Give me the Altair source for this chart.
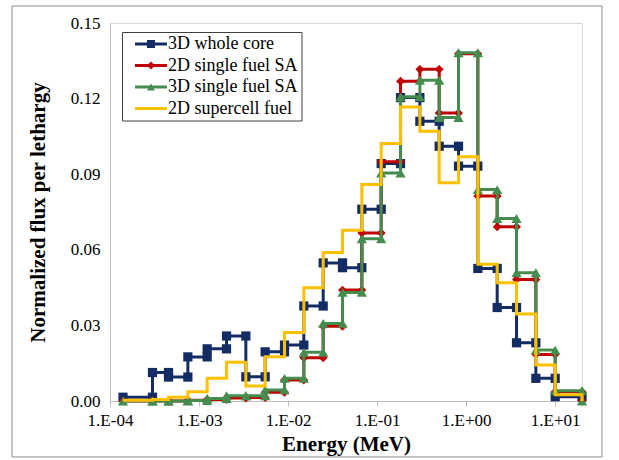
import altair as alt
import pandas as pd

# Group boundaries (MeV), lowest to highest
edges = [1.4e-4, 3.0e-4, 4.54e-4, 7.49e-4, 1.234e-3, 2.035e-3, 3.355e-3,
         5.531e-3, 9.119e-3, 1.503e-2, 2.479e-2, 4.087e-2, 6.738e-2, 0.1111,
         0.1832, 0.3020, 0.4979, 0.8208, 1.353, 2.231, 3.679, 6.065, 10.0, 20.0]

series_names = ["3D whole core", "2D single fuel SA", "3D single fuel SA", "2D supercell fuel"]

# Normalized flux per lethargy in each group
whole_core = [0.0015, 0.0113, 0.0095, 0.0175, 0.0207, 0.0258, 0.0096, 0.0195,
              0.0222, 0.0377, 0.0548, 0.0529, 0.0761, 0.0942, 0.1204, 0.1110,
              0.1011, 0.0932, 0.0526, 0.0371, 0.0231, 0.0090, 0.0017]
single_2d = [0.0000, 0.0000, 0.0000, 0.0003, 0.0006, 0.0012, 0.0014, 0.0035,
             0.0083, 0.0172, 0.0297, 0.0440, 0.0667, 0.0949, 0.1269, 0.1316,
             0.1143, 0.1378, 0.0813, 0.0691, 0.0482, 0.0185, 0.0037]
single_3d = [0.0000, 0.0000, 0.0000, 0.0002, 0.0010, 0.0021, 0.0021, 0.0044,
             0.0090, 0.0193, 0.0308, 0.0431, 0.0644, 0.0905, 0.1207, 0.1273,
             0.1125, 0.1382, 0.0839, 0.0724, 0.0509, 0.0202, 0.0041]
supercell = [0.0003, 0.0006, 0.0015, 0.0037, 0.0090, 0.0154, 0.0060, 0.0176,
             0.0272, 0.0449, 0.0589, 0.0678, 0.0859, 0.1022, 0.1167, 0.1070,
             0.0866, 0.0969, 0.0543, 0.0469, 0.0345, 0.0143, 0.0025]

values = [whole_core, single_2d, single_3d, supercell]
closes_to_zero = [False, True, True, True]

colors = ["#142c64", "#c00000", "#468c4e", "#ffc000"]
shapes = ["square", "diamond", "triangle-up", "circle"]
marker_sizes = [85, 80, 105, 0]

tick_values = [1e-4, 1e-3, 1e-2, 1e-1, 1e0, 1e1]
y_ticks = [0.0, 0.03, 0.06, 0.09, 0.12, 0.15]

# Expand every group into its left/right boundary points to form steps
rows = []
for name, vals, close in zip(series_names, values, closes_to_zero):
    k = 0
    for i, v in enumerate(vals):
        rows.append({"series": name, "energy": edges[i], "flux": v, "k": k}); k += 1
        rows.append({"series": name, "energy": edges[i + 1], "flux": v, "k": k}); k += 1
    if close:
        rows.append({"series": name, "energy": edges[-1], "flux": 0.0, "k": k})
df = pd.DataFrame(rows)

FONT = "Liberation Serif"
color_scale = alt.Scale(domain=series_names, range=colors)
shape_scale = alt.Scale(domain=series_names, range=shapes)

x_enc = alt.X(
    "energy:Q",
    scale=alt.Scale(type="log", domain=[1e-4, 20], nice=False),
    axis=alt.Axis(
        values=tick_values,
        labelExpr="'1.E' + (datum.value >= 1 ? '+' : '-') + "
                  "(abs(round(log(datum.value) / LN10)) < 10 ? '0' : '') + "
                  "abs(round(log(datum.value) / LN10))",
        grid=False, ticks=True, tickSize=5, tickColor="#bfbfbf",
        domainColor="#bfbfbf", labelFont=FONT, labelFontSize=17,
        labelColor="#000000", labelPadding=6, labelFlush=False,
        title="Energy (MeV)", titleFont=FONT, titleFontSize=21,
        titleFontWeight="bold", titleColor="#000000", titlePadding=5,
    ),
)
y_enc = alt.Y(
    "flux:Q",
    scale=alt.Scale(domain=[0, 0.15], nice=False),
    axis=alt.Axis(
        values=y_ticks, format=".2f", grid=False, ticks=False,
        domainColor="#bfbfbf", labelFont=FONT, labelFontSize=17,
        labelColor="#000000", labelPadding=10,
        title="Normalized flux per lethargy", titleFont=FONT,
        titleFontSize=21, titleFontWeight="bold", titleColor="#000000",
        titlePadding=22,
    ),
)

base = alt.Chart(df)
layers = []
for name, size in zip(series_names, marker_sizes):
    sel = base.transform_filter(alt.datum.series == name)
    layers.append(
        sel.mark_line(strokeWidth=3, clip=False).encode(
            x=x_enc, y=y_enc, order="k:Q",
            color=alt.Color("series:N", scale=color_scale, legend=None),
        )
    )
    if size > 0:
        layers.append(
            sel.mark_point(filled=True, size=size, opacity=1, clip=False).encode(
                x=x_enc, y=y_enc,
                color=alt.Color("series:N", scale=color_scale, legend=None),
                shape=alt.Shape("series:N", scale=shape_scale, legend=None),
            )
        )

# Legend drawn inside the plot area
leg_df = pd.DataFrame({"series": series_names, "row": list(range(len(series_names)))})
leg = alt.Chart(leg_df).transform_calculate(ly="21 + datum.row * 21.5")
leg_box = alt.Chart(alt.Data(values=[{}])).mark_rect(
    fill="white", stroke="#404040", strokeWidth=1
).encode(x=alt.value(12.5), x2=alt.value(192), y=alt.value(9.5), y2=alt.value(98))
leg_lines = leg.mark_rule(strokeWidth=3).encode(
    x=alt.value(25), x2=alt.value(57), y=alt.Y("ly:Q", scale=None),
    color=alt.Color("series:N", scale=color_scale, legend=None),
)
leg_pts = leg.transform_filter(alt.datum.series != series_names[3]).mark_point(
    filled=True, size=65, opacity=1
).encode(
    x=alt.value(41), y=alt.Y("ly:Q", scale=None),
    color=alt.Color("series:N", scale=color_scale, legend=None),
    shape=alt.Shape("series:N", scale=shape_scale, legend=None),
)
leg_text = leg.mark_text(
    align="left", baseline="middle", font=FONT, fontSize=18, color="#000000"
).encode(x=alt.value(58), y=alt.Y("ly:Q", scale=None), text="series:N")

# Outer frame of the whole figure
frame = alt.Chart(alt.Data(values=[{}])).mark_rect(
    fill=None, stroke="#8c8c8c", strokeWidth=1
).encode(x=alt.value(-98), x2=alt.value(492), y=alt.value(-17), y2=alt.value(434))

chart = alt.layer(
    frame, *layers, leg_box, leg_lines, leg_pts, leg_text
).properties(
    width=472, height=378,
    autosize=alt.AutoSizeParams(type="none"),
    padding={"left": 110, "top": 23, "right": 37, "bottom": 59},
    background="white",
).configure(font=FONT).configure_view(stroke="#d9d9d9", strokeWidth=1)

chart.save("out.html", embed_options={"renderer": "svg", "actions": False})
